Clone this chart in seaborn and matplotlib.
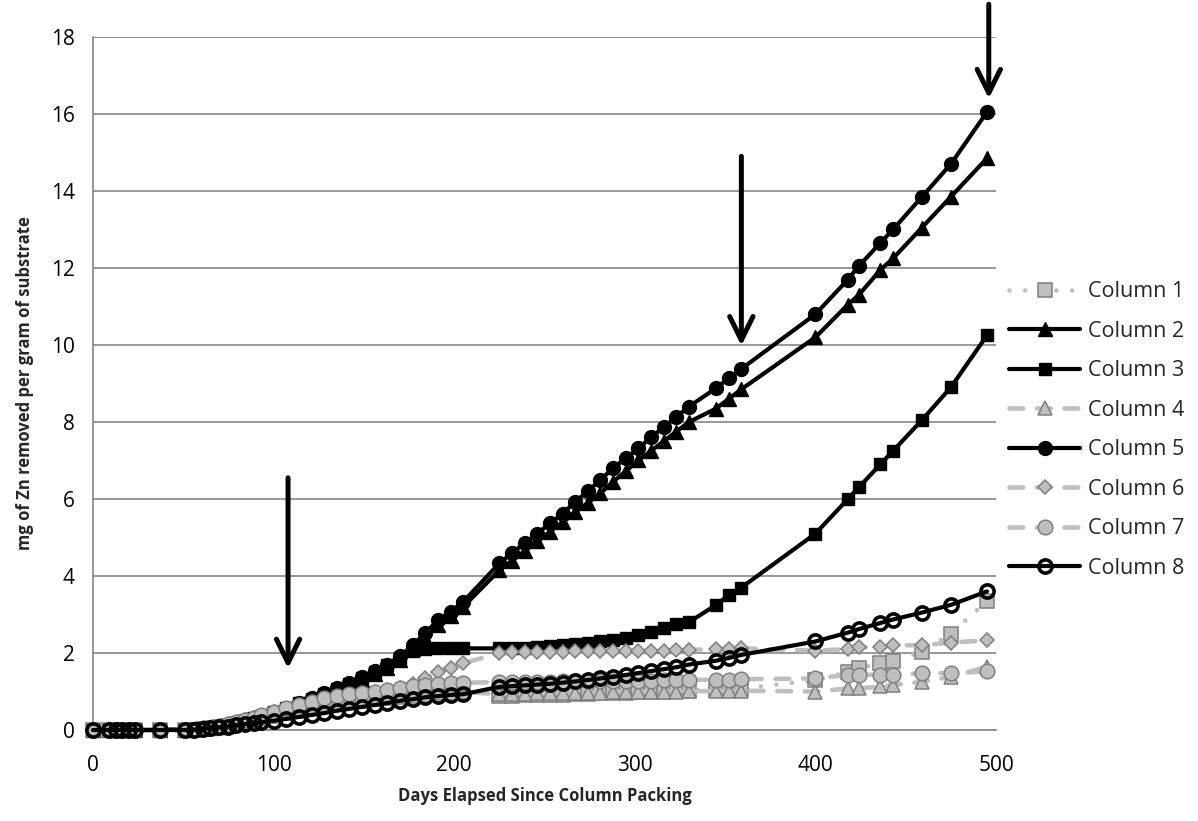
import matplotlib
matplotlib.use("Agg")
import matplotlib.pyplot as plt
import seaborn as sns
import pandas as pd

# Sampling days (days elapsed since column packing)
days = [0, 9, 13, 16, 20, 23, 37, 51, 56, 61, 65, 70, 75, 79, 84, 89, 93,
        100, 107, 114, 121, 128, 135, 142, 149, 156, 163, 170, 177, 184, 191, 198, 205,
        225, 232, 239, 246, 253, 260, 267, 274, 281, 288, 295, 302, 309, 316, 323, 330,
        345, 352, 359,
        400, 418, 424, 436, 443, 459, 475, 495]

# Cumulative mg Zn removed per gram of substrate
column_1 = [0, 0, 0, 0, 0, 0, 0, 0, 0, 0.02, 0.04, 0.07, 0.11, 0.15, 0.2, 0.25, 0.3,
            0.38, 0.45, 0.52, 0.58, 0.64, 0.69, 0.74, 0.78, 0.82, 0.86, 0.9, 0.93, 0.96, 0.99, 1.02, 1.05,
            0.88, 0.89, 0.9, 0.9, 0.91, 0.92, 0.93, 0.94, 0.95, 0.96, 0.97, 0.98, 0.99, 1.0, 1.01, 1.02,
            1.05, 1.06, 1.07,
            1.3, 1.5, 1.6, 1.73, 1.8, 2.03, 2.5, 3.35]
column_2 = [0, 0, 0, 0, 0, 0, 0, 0.01, 0.02, 0.04, 0.06, 0.09, 0.13, 0.18, 0.23, 0.29, 0.35,
            0.45, 0.55, 0.66, 0.78, 0.9, 1.03, 1.16, 1.3, 1.45, 1.62, 1.83, 2.1, 2.4, 2.72, 2.95, 3.2,
            4.15, 4.4, 4.65, 4.9, 5.15, 5.4, 5.65, 5.9, 6.15, 6.45, 6.72, 7.0, 7.25, 7.5, 7.75, 8.0,
            8.35, 8.6, 8.85,
            10.2, 11.05, 11.3, 11.95, 12.25, 13.05, 13.85, 14.85]
column_3 = [0, 0, 0, 0, 0, 0, 0, 0.01, 0.02, 0.04, 0.06, 0.09, 0.13, 0.18, 0.24, 0.3, 0.36,
            0.46, 0.57, 0.69, 0.81, 0.94, 1.07, 1.2, 1.35, 1.5, 1.68, 1.88, 2.05, 2.1, 2.12, 2.12, 2.12,
            2.12, 2.12, 2.13, 2.15, 2.17, 2.2, 2.23, 2.27, 2.31, 2.35, 2.4, 2.47, 2.55, 2.65, 2.75, 2.8,
            3.25, 3.5, 3.7,
            5.1, 6.0, 6.3, 6.9, 7.25, 8.05, 8.9, 10.25]
column_4 = [0, 0, 0, 0, 0, 0, 0, 0, 0, 0.02, 0.04, 0.07, 0.11, 0.15, 0.2, 0.25, 0.3,
            0.37, 0.44, 0.5, 0.56, 0.62, 0.67, 0.72, 0.76, 0.8, 0.83, 0.86, 0.89, 0.92, 0.95, 0.97, 0.99,
            0.93, 0.94, 0.94, 0.95, 0.95, 0.96, 0.96, 0.97, 0.97, 0.98, 0.98, 0.99, 0.99, 1.0, 1.0, 1.01,
            1.01, 1.02, 1.02,
            1.0, 1.08, 1.08, 1.13, 1.17, 1.25, 1.38, 1.64]
column_5 = [0, 0, 0, 0, 0, 0, 0, 0.01, 0.02, 0.04, 0.06, 0.1, 0.14, 0.19, 0.25, 0.31, 0.37,
            0.47, 0.58, 0.7, 0.82, 0.95, 1.08, 1.22, 1.37, 1.52, 1.7, 1.92, 2.2, 2.52, 2.85, 3.07, 3.33,
            4.33, 4.6, 4.85, 5.1, 5.37, 5.62, 5.93, 6.2, 6.5, 6.8, 7.06, 7.32, 7.6, 7.87, 8.13, 8.4,
            8.88, 9.14, 9.38,
            10.8, 11.7, 12.05, 12.65, 13.0, 13.85, 14.7, 16.05]
column_6 = [0, 0, 0, 0, 0, 0, 0, 0, 0, 0.03, 0.05, 0.09, 0.14, 0.19, 0.25, 0.31, 0.36,
            0.46, 0.55, 0.64, 0.72, 0.8, 0.86, 0.91, 0.95, 0.99, 1.04, 1.09, 1.2, 1.35, 1.5, 1.62, 1.73,
            2.0, 2.02, 2.02, 2.03, 2.03, 2.03, 2.04, 2.04, 2.04, 2.05, 2.05, 2.05, 2.06, 2.06, 2.07, 2.08,
            2.1, 2.11, 2.12,
            2.06, 2.1, 2.15, 2.15, 2.2, 2.2, 2.27, 2.33]
column_7 = [0, 0, 0, 0, 0, 0, 0, 0, 0, 0.03, 0.06, 0.1, 0.15, 0.2, 0.26, 0.32, 0.38,
            0.48, 0.57, 0.66, 0.74, 0.82, 0.88, 0.93, 0.97, 1.0, 1.05, 1.09, 1.13, 1.17, 1.2, 1.22, 1.23,
            1.24, 1.24, 1.25, 1.25, 1.25, 1.26, 1.26, 1.26, 1.27, 1.27, 1.27, 1.28, 1.28, 1.29, 1.29, 1.3,
            1.31, 1.31, 1.32,
            1.34, 1.43, 1.43, 1.44, 1.44, 1.47, 1.48, 1.52]
column_8 = [0, 0, 0, 0, 0, 0, 0, 0, 0.01, 0.03, 0.05, 0.07, 0.09, 0.12, 0.15, 0.18, 0.2,
            0.24, 0.29, 0.34, 0.39, 0.44, 0.5, 0.55, 0.6, 0.65, 0.7, 0.76, 0.8, 0.85, 0.88, 0.91, 0.93,
            1.12, 1.14, 1.16, 1.18, 1.2, 1.23, 1.26, 1.3, 1.34, 1.38, 1.43, 1.48, 1.53, 1.58, 1.63, 1.7,
            1.8, 1.87, 1.95,
            2.3, 2.53, 2.62, 2.78, 2.87, 3.05, 3.25, 3.6]

series_names = ["Column 1", "Column 2", "Column 3", "Column 4",
                "Column 5", "Column 6", "Column 7", "Column 8"]
series_values = [column_1, column_2, column_3, column_4,
                 column_5, column_6, column_7, column_8]

x_ticks = [0, 100, 200, 300, 400, 500]
y_ticks = [0, 2, 4, 6, 8, 10, 12, 14, 16, 18]

# Event arrows: (day, tail value, head value)
arrow_days = [108, 359, 496]
arrow_tails = [6.55, 14.9, 18.85]
arrow_heads = [1.6, 9.98, 16.4]

frames = []
for name, vals in zip(series_names, series_values):
    frames.append(pd.DataFrame({"day": days, "value": vals, "series": name}))
df = pd.concat(frames, ignore_index=True)

sns.set_style("white")
plt.rcParams["font.family"] = ["Open Sans", "DejaVu Sans"]

GRAY_LINE = "#bfbfbf"
GRAY_FILL = "#bfbfbf"
GRAY_EDGE = "#7f7f7f"
AXIS_GRAY = "#868686"

dotted = (0, (0.01, 3.4))
dashed = (0, (3.0, 3.0))
styles = {
    "Column 1": dict(color=GRAY_LINE, linestyle=dotted, linewidth=3.3, marker="s", markersize=9.5,
                     markerfacecolor=GRAY_FILL, markeredgecolor=GRAY_EDGE, markeredgewidth=1.1,
                     dash_capstyle="round"),
    "Column 2": dict(color="black", linestyle="-", linewidth=3.0, marker="^", markersize=10.5,
                     markerfacecolor="black", markeredgecolor="black", markeredgewidth=1.0),
    "Column 3": dict(color="black", linestyle="-", linewidth=3.0, marker="s", markersize=9.0,
                     markerfacecolor="black", markeredgecolor="black", markeredgewidth=1.0),
    "Column 4": dict(color=GRAY_LINE, linestyle=dashed, linewidth=3.3, marker="^", markersize=10.5,
                     markerfacecolor=GRAY_FILL, markeredgecolor=GRAY_EDGE, markeredgewidth=1.1,
                     dash_capstyle="round"),
    "Column 5": dict(color="black", linestyle="-", linewidth=3.0, marker="o", markersize=10.0,
                     markerfacecolor="black", markeredgecolor="black", markeredgewidth=1.0),
    "Column 6": dict(color=GRAY_LINE, linestyle=dashed, linewidth=3.3, marker="D", markersize=7.5,
                     markerfacecolor=GRAY_FILL, markeredgecolor=GRAY_EDGE, markeredgewidth=1.1,
                     dash_capstyle="round"),
    "Column 7": dict(color=GRAY_LINE, linestyle=dashed, linewidth=3.3, marker="o", markersize=10.5,
                     markerfacecolor=GRAY_FILL, markeredgecolor=GRAY_EDGE, markeredgewidth=1.1,
                     dash_capstyle="round"),
    "Column 8": dict(color="black", linestyle="-", linewidth=3.0, marker="o", markersize=9.5,
                     markerfacecolor="none", markeredgecolor="black", markeredgewidth=2.6),
}

fig = plt.figure(figsize=(11.98, 8.21), dpi=100)
ax = fig.add_axes([93 / 1198, 1 - 730 / 821, (996 - 93) / 1198, (730 - 37) / 821])

for i, name in enumerate(series_names):
    sub = df[df["series"] == name]
    sns.lineplot(data=sub, x="day", y="value", ax=ax, estimator=None, sort=False,
                 label=name, clip_on=False, zorder=3 + i, **styles[name])

ax.set_xlim(0, 500)
ax.set_ylim(0, 18)
ax.set_xticks(x_ticks)
ax.set_yticks(y_ticks)
ax.yaxis.grid(True, color=AXIS_GRAY, linewidth=1.2)
ax.xaxis.grid(False)
ax.set_axisbelow(True)
for side in ["top", "right"]:
    ax.spines[side].set_visible(False)
for side in ["left", "bottom"]:
    ax.spines[side].set_color(AXIS_GRAY)
    ax.spines[side].set_linewidth(1.2)
ax.tick_params(axis="both", which="major", direction="out", length=5, width=1.2,
               color=AXIS_GRAY, labelsize=15, labelcolor="black")
ax.tick_params(axis="y", pad=8)
ax.tick_params(axis="x", pad=13)

ax.set_xlabel("Days Elapsed Since Column Packing", fontsize=12, fontweight="bold", labelpad=8)
ax.set_ylabel("mg of Zn removed per gram of substrate", fontsize=12, fontweight="bold", labelpad=12)

for d, tail, head in zip(arrow_days, arrow_tails, arrow_heads):
    ax.annotate("", xy=(d, head), xytext=(d, tail), annotation_clip=False,
                arrowprops=dict(arrowstyle="->,head_length=0.85,head_width=0.42",
                                color="black", lw=3.6, mutation_scale=20,
                                shrinkA=0, shrinkB=0), zorder=20)

leg_handles, leg_labels = ax.get_legend_handles_labels()
ax.legend(leg_handles, leg_labels, loc="center left",
          bbox_to_anchor=(1009 / 1198, 1 - 430 / 821), bbox_transform=fig.transFigure,
          frameon=False, fontsize=15.5, handlelength=3.3, handletextpad=0.35,
          labelspacing=0.86, borderaxespad=0, borderpad=0)

fig.savefig("out.png", dpi=100)
